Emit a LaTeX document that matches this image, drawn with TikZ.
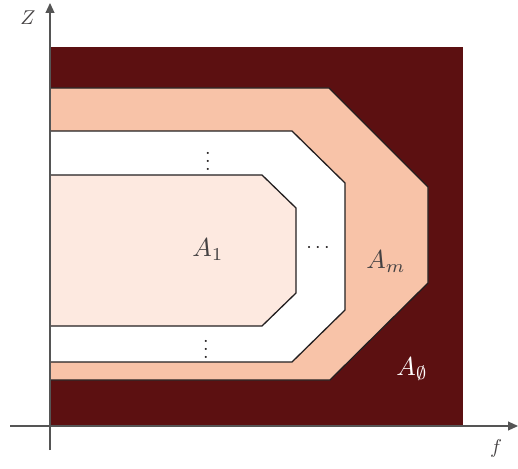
\documentclass[tikz,border=0pt]{standalone}
\usetikzlibrary{arrows.meta}
\definecolor{darkred}{HTML}{5C1011}
\definecolor{salmon}{HTML}{F8C3A8}
\definecolor{pale}{HTML}{FDE9E0}
\definecolor{edge}{HTML}{231F20}
\definecolor{axisgrey}{HTML}{555555}
\begin{document}
\begin{tikzpicture}[x=1pt,y=-1pt,
  region/.style={draw=edge,line width=1.3pt,line join=miter},
  axisline/.style={draw=axisgrey,line width=1.1pt,-{Triangle[length=10pt,width=9pt]}},
  biglabel/.style={scale=2.6,text=edge!85},
  axislabel/.style={scale=2.0,text=edge!85},
  dotslabel/.style={scale=2.0,text=edge}]
\useasboundingbox (0,0) rectangle (518,468);
% outer dark region
\fill[darkred] (50,47) rectangle (463,426);
% A_m region
\path[region,fill=salmon] (50,88) -- (329,88) -- (428,187) -- (428,283) -- (330,380) -- (50,380) -- cycle;
% intermediate (white) region
\path[region,fill=white] (50,131) -- (292,131) -- (345,183) -- (345,310) -- (292,362) -- (50,362) -- cycle;
% A_1 region
\path[region,fill=pale] (50,175) -- (262,175) -- (296,208) -- (296,293) -- (262,326) -- (50,326) -- cycle;
% axes
\coordinate (xs) at (10,426);
\coordinate (xe) at (518,426);
\coordinate (ys) at (50,450);
\coordinate (ye) at (50,3);
\draw[axisline] (xs) -- (xe);
\draw[axisline] (ys) -- (ye);
\node[axislabel] (zl) at (28,18) {$Z$};
\node[axislabel] (fl) at (496,448) {$f$};
% labels
\node[biglabel] (a1) at (208,250) {$A_1$};
\node[biglabel] (am) at (386,262) {$A_m$};
\node[biglabel,text=white] (a0) at (412,369) {$A_\emptyset$};
\node[dotslabel] (vd1) at (208,155) {$\vdots$};
\node[dotslabel] (vd2) at (206,343) {$\vdots$};
\node[dotslabel] (hd) at (318,248) {$\cdots$};
\end{tikzpicture}
\end{document}
